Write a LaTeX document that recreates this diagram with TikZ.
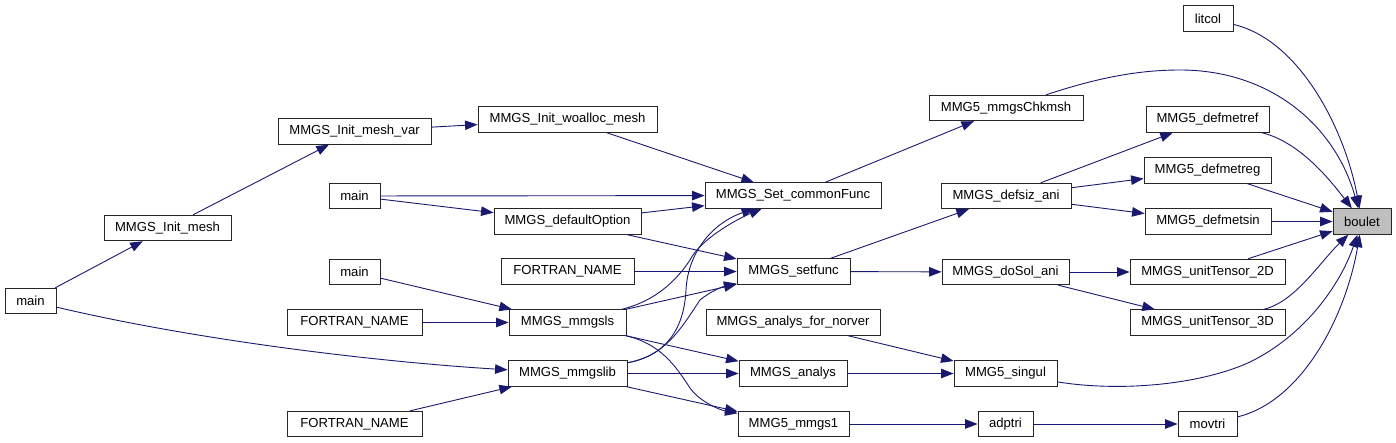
\documentclass[tikz,border=0pt]{standalone}
\usepackage{fontspec}
\setmainfont{Liberation Sans}
\usetikzlibrary{arrows.meta}
\definecolor{edgec}{RGB}{25,25,112}
\definecolor{hilite}{RGB}{191,191,191}
\tikzset{
  fbox/.style={draw=black!85, line width=0.9pt, rectangle, inner sep=0pt, minimum height=25.5pt, font=\fontsize{13.1}{15}\selectfont, fill=white},
  call/.style={draw=edgec, line width=0.9pt, -{Triangle[length=12.5pt,width=9.5pt]}, color=edgec}
}
\begin{document}
\begin{tikzpicture}[x=1pt,y=-1pt]
\useasboundingbox (0,0) rectangle (1396,443);
% right column
\node[fbox, minimum width=58pt, fill=hilite] (bl) at (1362,221.5) {boulet};
\node[fbox, minimum width=50pt] (lc) at (1208,18.5) {litcol};
\node[fbox, minimum width=123pt] (dmr) at (1207.5,119.5) {MMG5\_defmetref};
\node[fbox, minimum width=127pt] (dmg) at (1207.5,170.5) {MMG5\_defmetreg};
\node[fbox, minimum width=126pt] (dms) at (1208,221.5) {MMG5\_defmetsin};
\node[fbox, minimum width=155pt] (ut2) at (1207.5,272) {MMGS\_unitTensor\_2D};
\node[fbox, minimum width=155pt] (ut3) at (1207.5,322.5) {MMGS\_unitTensor\_3D};
\node[fbox, minimum width=59pt] (mv) at (1207.5,424) {movtri};
% column 4
\node[fbox, minimum width=154pt] (chk) at (1006,108) {MMG5\_mmgsChkmsh};
\node[fbox, minimum width=130pt] (dsa) at (1006,196) {MMGS\_defsiz\_ani};
\node[fbox, minimum width=127pt] (dsol) at (1005.5,272) {MMGS\_doSol\_ani};
\node[fbox, minimum width=103pt] (sg) at (1005.5,373.5) {MMG5\_singul};
\node[fbox, minimum width=55pt] (ad) at (1005.5,424) {adptri};
% column 3
\node[fbox, minimum width=176pt] (scf) at (793,195.5) {MMGS\_Set\_commonFunc};
\node[fbox, minimum width=113pt] (sf) at (793.5,271.5) {MMGS\_setfunc};
\node[fbox, minimum width=174pt] (anr) at (793,322.5) {MMGS\_analys\_for\_norver};
\node[fbox, minimum width=108pt] (an) at (793,373.5) {MMGS\_analys};
\node[fbox, minimum width=111pt] (m1) at (793.5,424) {MMG5\_mmgs1};
% column 2
\node[fbox, minimum width=179pt] (wa) at (567.5,119.5) {MMGS\_Init\_woalloc\_mesh};
\node[fbox, minimum width=147pt] (dop) at (567.5,221.5) {MMGS\_defaultOption};
\node[fbox, minimum width=133pt] (fn0) at (567.5,271.5) {FORTRAN\_NAME};
\node[fbox, minimum width=117pt] (ls) at (567.5,322.5) {MMGS\_mmgsls};
\node[fbox, minimum width=119pt] (lib) at (567.5,373.5) {MMGS\_mmgslib};
% column 1
\node[fbox, minimum width=153pt] (imv) at (354.5,131.5) {MMGS\_Init\_mesh\_var};
\node[fbox, minimum width=51pt] (mn1) at (354.5,196) {main};
\node[fbox, minimum width=51pt] (mn2) at (354.5,272) {main};
\node[fbox, minimum width=135pt] (fn1) at (354.5,322.5) {FORTRAN\_NAME};
\node[fbox, minimum width=135pt] (fn2) at (354.5,424) {FORTRAN\_NAME};
% column 0
\node[fbox, minimum width=127pt] (im) at (167.5,228) {MMGS\_Init\_mesh};
\node[fbox, minimum width=51pt] (mn0) at (30.5,301) {main};

% edges into boulet
\draw[call] (lc) .. controls (1300,40) and (1345,130) .. (bl);
\draw[call] (chk) .. controls (1100,77) and (1140,70) .. (1180,70) .. controls (1270,70) and (1335,125) .. (bl);
\draw[call] (dmr) .. controls (1300,142) and (1330,180) .. (bl);
\draw[call] (dmg) -- (bl);
\draw[call] (dms) -- (bl);
\draw[call] (ut2) -- (bl);
\draw[call] (ut3) .. controls (1295,302) and (1320,262) .. (bl);
\draw[call] (sg) .. controls (1120,392) and (1200,385) .. (1250,362) .. controls (1305,335) and (1340,285) .. (bl);
\draw[call] (mv) .. controls (1300,402) and (1345,320) .. (bl);
% column 4 -> right
\draw[call] (dsa) -- (dmr);
\draw[call] (dsa) -- (dmg);
\draw[call] (dsa) -- (dms);
\draw[call] (dsol) -- (ut2);
\draw[call] (dsol) -- (ut3);
\draw[call] (ad) -- (mv);
% column 3 -> 4
\draw[call] (scf) -- (chk);
\draw[call] (sf) -- (dsa);
\draw[call] (sf) -- (dsol);
\draw[call] (anr) -- (sg);
\draw[call] (an) -- (sg);
\draw[call] (m1) -- (ad);
% column 2 -> 3
\draw[call] (wa) -- (scf);
\draw[call] (dop) -- (scf);
\draw[call] (dop) -- (sf);
\draw[call] (fn0) -- (sf);
\draw[call] (ls) .. controls (660,300) and (680,275) .. (690,260) .. controls (700,240) and (735,220) .. (scf);
\draw[call] (ls) -- (sf);
\draw[call] (ls) -- (an);
\draw[call] (ls) .. controls (660,343.5) and (675,365) .. (690,388) .. controls (700,402) and (720,410) .. (m1);
\draw[call] (lib) .. controls (665,356) and (684,330) .. (686,290) .. controls (688,250) and (715,222) .. (scf);
\draw[call] (lib) .. controls (665,356) and (680,330) .. (700,300) .. controls (712,290) and (725,286) .. (sf);
\draw[call] (lib) -- (an);
\draw[call] (lib) -- (m1);
% column 1 -> 2
\draw[call] (imv) -- (wa);
\draw[call] (mn1) -- (scf);
\draw[call] (mn1) -- (dop);
\draw[call] (mn2) -- (ls);
\draw[call] (fn1) -- (ls);
\draw[call] (fn2) -- (lib);
% column 0
\draw[call] (im) -- (imv);
\draw[call] (mn0) -- (im);
\draw[call] (mn0) .. controls (200,341) and (380,362) .. (lib);
\end{tikzpicture}
\end{document}
